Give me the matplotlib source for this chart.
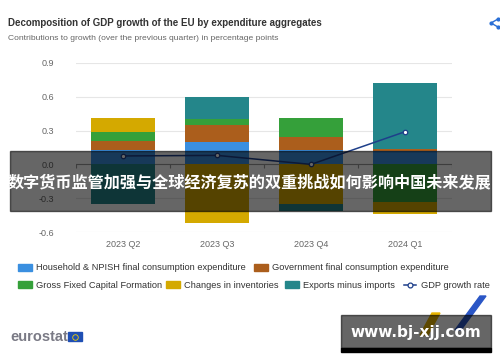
import matplotlib.pyplot as plt
from matplotlib.patches import Rectangle, Polygon
from matplotlib.lines import Line2D
import numpy as np

plt.rcParams['font.family'] = ['Liberation Sans', 'DejaVu Sans']

# --- data
quarters = ["2023 Q2", "2023 Q3", "2023 Q4", "2024 Q1"]
household = [0.13, 0.20, 0.13, 0.12]
government = [0.08, 0.15, 0.11, 0.02]
gfcf = [0.08, 0.05, 0.17, -0.335]
inventories = [0.12, -0.52, -0.355, -0.105]
exports = [-0.35, 0.20, -0.055, 0.58]
gdp_rate = [0.075, 0.08, 0.0, 0.29]

series_names = ["Household & NPISH final consumption expenditure",
                "Government final consumption expenditure",
                "Gross Fixed Capital Formation",
                "Changes in inventories",
                "Exports minus imports"]
colors = ["#3a8fe0", "#ab5e1c", "#35a03a", "#d4a900", "#24868a"]
line_color = "#1e3f8a"

W, H = 500, 362
fig = plt.figure(figsize=(5.0, 3.62), dpi=100)

def fx(px):
    return px / W

def fy(py):
    return 1 - py / H

ax = fig.add_axes([fx(76), fy(232), fx(452) - fx(76), fy(63) - fy(232)])

# --- stacked bars (positive and negative stacks separately)
x = np.arange(len(quarters))
pos_base = np.zeros(len(quarters))
neg_base = np.zeros(len(quarters))
for vals, c in zip([household, government, gfcf, inventories, exports], colors):
    v = np.array(vals)
    pos = np.where(v > 0, v, 0)
    neg = np.where(v < 0, v, 0)
    ax.bar(x, pos, 0.68, bottom=pos_base, color=c, zorder=2)
    ax.bar(x, neg, 0.68, bottom=neg_base, color=c, zorder=2)
    pos_base += pos
    neg_base += neg

ax.plot(x, gdp_rate, color=line_color, lw=1.1, marker='o', ms=3.2,
        mfc='white', mec=line_color, mew=0.9, zorder=4)

ax.set_xlim(-0.5, 3.5)
ax.set_ylim(-0.6, 0.9)
ax.set_yticks([-0.6, -0.3, 0.0, 0.3, 0.6, 0.9])
ax.set_yticklabels(["-0.6", "-0.3", "0.0", "0.3", "0.6", "0.9"])
ax.set_xticks(x)
ax.set_xticklabels(quarters)
ax.tick_params(axis='both', length=0, labelsize=6.5, colors="#666666")
ax.tick_params(axis='y', pad=16)
ax.tick_params(axis='x', pad=6)
for s in ax.spines.values():
    s.set_visible(False)
ax.grid(axis='y', color="#e6e6e6", lw=0.8, zorder=0)
ax.set_axisbelow(True)
ax.axhline(0, color="#999999", lw=0.8, zorder=1)
ax.vlines(np.arange(-0.5, 4, 1), -0.035, 0, color="#999999", lw=0.8, zorder=1)

# --- titles
fig.text(fx(8), fy(23), "Decomposition of GDP growth of the EU by expenditure aggregates",
         fontsize=7.05, fontweight='bold', color="#333333", va='center')
fig.text(fx(8), fy(38), "Contributions to growth (over the previous quarter) in percentage points",
         fontsize=6.1, color="#666666", va='center')

# share icon
fig.add_artist(Line2D([fx(498), fx(491), fx(498)], [fy(19), fy(23), fy(27)],
                      color="#2a6fd6", lw=1.0))
for py_ in (19, 27):
    fig.add_artist(Line2D([fx(498)], [fy(py_)], marker='o', ms=2, color="#2a6fd6"))
fig.add_artist(Line2D([fx(491)], [fy(23)], marker='o', ms=2, color="#2a6fd6"))

# --- legend (drawn by hand to keep positions)
legend_rows = [
    [(18, 0), (254, 1)],
    [(18, 2), (166, 3), (285, 4)],
]
for row_y, row in zip([268, 285], legend_rows):
    for lx, i in row:
        fig.add_artist(Rectangle((fx(lx), fy(row_y + 3)), fx(14), fy(0) - fy(7),
                                 color=colors[i], transform=fig.transFigure))
        fig.text(fx(lx + 18), fy(row_y), series_names[i], fontsize=6.7,
                 color="#333333", va='center')
fig.add_artist(Line2D([fx(404), fx(416)], [fy(285), fy(285)], color=line_color, lw=1.1))
fig.add_artist(Line2D([fx(410)], [fy(285)], marker='o', ms=3.5, mfc='white',
                      mec=line_color, mew=0.9))
fig.text(fx(421), fy(285), "GDP growth rate", fontsize=6.7, color="#333333", va='center')

# --- eurostat logo
fig.text(fx(10), fy(337), "eurostat", fontsize=10.5, fontweight='bold', color="#7a7a85", va='center')
fig.add_artist(Rectangle((fx(68), fy(341)), fx(14), fy(0) - fy(9), color="#1f4fb4",
                         transform=fig.transFigure))
fig.add_artist(Line2D([fx(75)], [fy(336.5)], marker='o', ms=4, mfc='none', mec="#f0d000",
                      mew=0.6))

# --- overlay banner
fig.add_artist(Rectangle((fx(10), fy(211)), fx(481), fy(0) - fy(60),
                         color='black', alpha=0.6, transform=fig.transFigure, zorder=10))
fig.text(fx(250), fy(182), "数字货币监管加强与全球经济复苏的双重挑战如何影响中国未来发展",
         fontsize=11.6, fontweight='bold', color='white', ha='center', va='center',
         family=['Noto Sans CJK SC', 'DejaVu Sans'], zorder=11)

# --- watermark
fig.add_artist(Polygon([[fx(420), fy(335)], [fx(432), fy(313)], [fx(440), fy(313)], [fx(428), fy(335)]],
                       closed=True, color="#e8b400", transform=fig.transFigure, zorder=9))
fig.add_artist(Polygon([[fx(455), fy(330)], [fx(480), fy(296)], [fx(486), fy(296)], [fx(461), fy(330)]],
                       closed=True, color="#2a56c6", transform=fig.transFigure, zorder=9))
fig.add_artist(Rectangle((fx(341), fy(348)), fx(150), fy(0) - fy(33),
                         color='black', alpha=0.6, transform=fig.transFigure, zorder=10))
fig.add_artist(Rectangle((fx(341), fy(352)), fx(150), fy(0) - fy(4),
                         color='black', transform=fig.transFigure, zorder=10))
fig.text(fx(416), fy(333), "www.bj-xjj.com", fontsize=11, fontweight='bold', color='white',
         ha='center', va='center', family=['DejaVu Sans'], zorder=11)

fig.savefig("out.png", dpi=100)
